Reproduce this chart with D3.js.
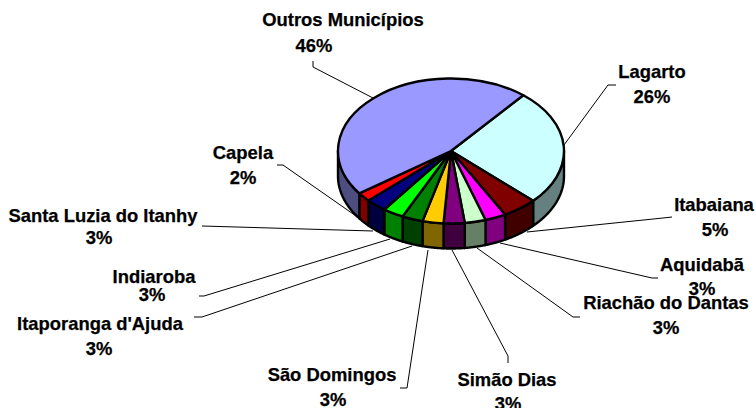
<!DOCTYPE html>
<html>
<head>
<meta charset="utf-8">
<script src="https://cdn.jsdelivr.net/npm/d3@7"></script>
<style>
  html, body { margin: 0; padding: 0; background: #fff; }
  svg { display: block; }
  text { font-family: "Liberation Sans", Arial, sans-serif; font-weight: bold; font-size: 18.4px; fill: #000; stroke: #000; stroke-width: 0.25px; text-anchor: middle; }
</style>
</head>
<body>
<svg id="chart" width="756" height="408"></svg>
<script>
// Share of each municipality, clockwise from the Lagarto slice
const municipalities = ["Lagarto", "Itabaiana", "Aquidabã", "Riachão do Dantas", "Simão Dias",
  "São Domingos", "Itaporanga d'Ajuda", "Indiaroba", "Santa Luzia do Itanhy", "Capela", "Outros Municípios"];
const shares = [26, 5, 3, 3, 3, 3, 3, 3, 3, 2, 46];
const sliceColors = ["#CCFFFF", "#800000", "#FF00FF", "#CCFFCC", "#800080",
  "#FFCC00", "#008000", "#00FF00", "#000080", "#FF0000", "#9999FF"];

// Label placement: name centre/baseline, percentage centre/baseline
const labelPlacement = [
  [652, 78, 652, 103], [714, 211, 715, 236], [702, 271, 702, 295], [666, 309, 666, 334],
  [507, 386, 508, 410], [332, 381, 333, 406], [100, 330, 99, 355], [154, 283, 152, 301],
  [103, 222, 99, 244], [243, 159, 243, 184], [343, 26, 314, 52]
];
// Leader polylines running from each label to its slice
const leaderPaths = [
  [[616, 85], [608, 85], [564, 145]],
  [[672, 217], [663, 218], [527, 232]],
  [[658, 278], [652, 278], [500, 243]],
  [[580, 317], [573, 317], [477, 248]],
  [[508, 363], [508, 356], [452, 250]],
  [[400, 388], [407, 388], [428, 250]],
  [[194, 317], [202, 317], [412, 246]],
  [[199, 296], [204, 296], [390, 239]],
  [[202, 226], [373, 231]],
  [[277, 165], [283, 165], [356, 216]],
  [[313, 61], [313, 67], [373, 98]]
];

const cx = 451, cy = 151, rx = 113, ry = 72.5, depth = 25;
const startDeg = 39.8;
const rad = d => d * Math.PI / 180;

const svg = d3.select("#chart");

const pie = d3.pie().sort(null).value(d => d)
  .startAngle(rad(startDeg)).endAngle(rad(startDeg + 360));
const arcs = pie(shares);

// Point on the disc rim for a clockwise-from-top angle
const rim = (a, dy = 0) => [cx + rx * Math.sin(a), cy - ry * Math.cos(a) + dy];

const lineGen = d3.line();
svg.append("g").selectAll("path").data(leaderPaths).join("path")
  .attr("d", d => lineGen(d))
  .attr("fill", "none").attr("stroke", "#000").attr("stroke-width", 1);

// Side wall: only the rim between 90° and 270° faces the viewer
const wallPath = d => {
  const a0 = Math.max(d.startAngle, rad(90));
  const a1 = Math.min(d.endAngle, rad(270));
  if (a1 <= a0) return null;
  const angles = d3.range(0, 41).map(i => a0 + (a1 - a0) * i / 40);
  return lineGen([...angles.map(a => rim(a)), ...angles.slice().reverse().map(a => rim(a, depth))]) + "Z";
};
const halfShade = c => { const r = d3.rgb(c); return d3.rgb(r.r * 0.5, r.g * 0.5, r.b * 0.5).formatHex(); };

svg.append("g").selectAll("path")
  .data(arcs.filter(d => wallPath(d))).join("path")
  .attr("d", wallPath)
  .attr("fill", d => halfShade(sliceColors[d.index]))
  .attr("stroke", "#000").attr("stroke-width", 2.4).attr("stroke-linejoin", "round");

// Top face: a flat pie squashed into an ellipse
const arcGen = d3.arc().innerRadius(0).outerRadius(rx);
svg.append("g")
  .attr("transform", `translate(${cx},${cy}) scale(1,${ry / rx})`)
  .selectAll("path").data(arcs).join("path")
  .attr("d", arcGen)
  .attr("fill", d => sliceColors[d.index])
  .attr("stroke", "#000").attr("stroke-width", 2.4).attr("stroke-linejoin", "round")
  .attr("vector-effect", "non-scaling-stroke");

const labels = svg.append("g");
municipalities.forEach((name, i) => {
  const [nx, ny, px, py] = labelPlacement[i];
  labels.append("text").attr("x", nx).attr("y", ny).text(name);
  labels.append("text").attr("x", px).attr("y", py).text(shares[i] + "%");
});
</script>
</body>
</html>
